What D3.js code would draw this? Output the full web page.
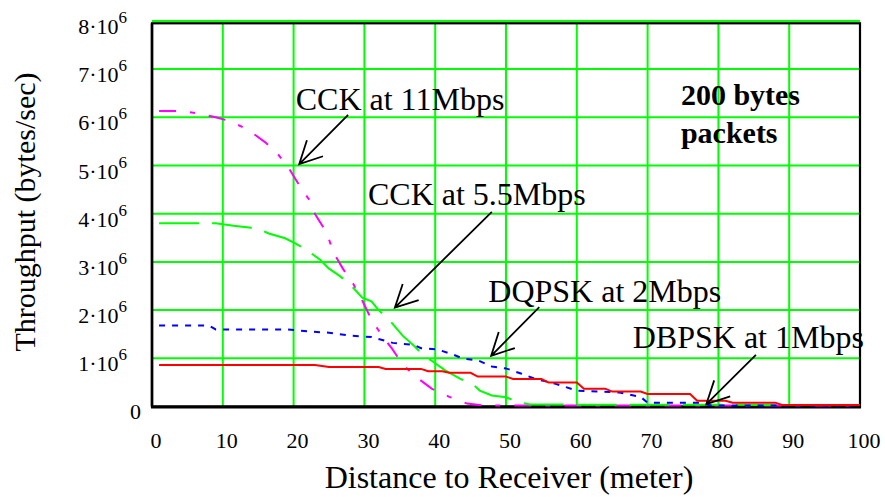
<!DOCTYPE html>
<html>
<head>
<meta charset="utf-8">
<script src="https://cdn.jsdelivr.net/npm/d3@7"></script>
<style>
  html, body { margin: 0; padding: 0; background: #fff; }
  svg { display: block; }
  svg text { font-family: "Liberation Serif", "Times New Roman", Times, "DejaVu Serif", "Noto Serif", serif; }
</style>
</head>
<body>
<svg id="chart" width="885" height="497"></svg>
<script>
// Distance ticks (meter) and throughput ticks (bytes/sec)
const xTicks = [0, 10, 20, 30, 40, 50, 60, 70, 80, 90, 100];
const yTicks = [0, 1e6, 2e6, 3e6, 4e6, 5e6, 6e6, 7e6, 8e6];
const yTickMantissa = ["0", "1", "2", "3", "4", "5", "6", "7", "8"];

// Throughput vs. distance, [distance, bytes/sec]
const cck11 = [
  [1, 6.13e6], [4, 6.13e6], [6.5, 6.08e6], [9, 6.0e6], [11, 5.92e6], [13.5, 5.75e6],
  [16, 5.48e6], [17.7, 5.25e6], [19.3, 4.95e6], [21, 4.54e6], [22.3, 4.27e6], [23, 4.0e6],
  [24.7, 3.6e6], [25.6, 3.2e6], [27, 2.85e6], [28.4, 2.55e6], [29.7, 2.2e6], [31, 1.8e6],
  [32.5, 1.47e6], [33.9, 1.2e6], [35.5, 0.85e6], [37.6, 0.58e6], [39.5, 0.37e6], [42, 0.2e6],
  [44.5, 0.06e6], [47, 0.02e6], [100, 0.02e6]
];
const cck55 = [
  [1, 3.80e6], [9, 3.80e6], [11.5, 3.75e6], [14, 3.71e6], [15, 3.69e6], [16.5, 3.59e6],
  [18.8, 3.49e6], [20.3, 3.38e6], [21.9, 3.24e6], [23.7, 3.05e6], [25, 2.86e6], [26.5, 2.71e6],
  [28, 2.53e6], [29.7, 2.26e6], [31, 2.18e6], [32, 2.0e6], [33.6, 1.78e6], [35.4, 1.47e6],
  [37, 1.26e6], [38.5, 1.04e6], [39.5, 0.95e6], [41.4, 0.75e6], [43.5, 0.58e6], [45.5, 0.44e6],
  [46.3, 0.33e6], [48, 0.23e6], [50, 0.19e6], [52, 0.08e6], [53.4, 0.04e6], [100, 0.03e6]
];
const dqpsk = [
  [1, 1.68e6], [8, 1.68e6], [9, 1.60e6], [19, 1.60e6], [22, 1.56e6], [25, 1.53e6],
  [28, 1.47e6], [31, 1.44e6], [34, 1.32e6], [37, 1.28e6], [38, 1.21e6], [40.4, 1.18e6],
  [42.5, 1.08e6], [44, 0.99e6], [46, 0.96e6], [48, 0.83e6], [50, 0.79e6], [52, 0.69e6],
  [54, 0.58e6], [57, 0.47e6], [60, 0.33e6], [63, 0.31e6], [66, 0.29e6], [69, 0.20e6],
  [70, 0.08e6], [77, 0.08e6], [79, 0.02e6], [100, 0.02e6]
];
const dbpsk = [
  [1, 0.86e6], [23, 0.86e6], [25, 0.82e6], [32, 0.82e6], [33, 0.78e6], [38, 0.78e6],
  [39, 0.73e6], [41, 0.73e6], [42, 0.70e6], [45, 0.70e6], [46, 0.62e6], [50, 0.62e6],
  [51, 0.57e6], [55, 0.57e6], [56, 0.50e6], [60, 0.50e6], [61, 0.37e6], [64, 0.37e6],
  [65, 0.31e6], [69, 0.31e6], [70, 0.26e6], [76, 0.26e6], [77, 0.12e6], [81, 0.12e6],
  [82, 0.08e6], [88, 0.08e6], [89, 0.03e6], [100, 0.03e6]
];

// Callout labels: text, label anchor [distance, throughput], arrow tail and tip
const calloutText = ["CCK at 11Mbps", "CCK at 5.5Mbps", "DQPSK at 2Mbps", "DBPSK at 1Mbps"];
const calloutAt = [[20.3, 6.15e6], [30.5, 4.18e6], [47.5, 2.17e6], [67.9, 1.21e6]];
const arrowTail = [[27.7, 6.05e6], [48.0, 4.04e6], [54.7, 2.06e6], [85.3, 1.07e6]];
const arrowTip = [[20.8, 5.03e6], [34.3, 2.05e6], [47.9, 1.05e6], [78.3, 0.05e6]];

const noteLines = ["200 bytes", "packets"];
const noteAt = [[74.7, 6.26e6], [74.7, 5.47e6]];

const series = [
  { data: cck11, color: "#ff00ff", dash: "17,14,5,14" },
  { data: cck55, color: "#00ff00", dash: "40,13" },
  { data: dqpsk, color: "#0000ff", dash: "6,7" },
  { data: dbpsk, color: "#ff0000", dash: null }
];

const svg = d3.select("#chart");
const plotLeft = 152, plotRight = 860, plotTop = 20.9, plotBottom = 406.5, frameTop = 23.3;

const x = d3.scaleLinear().domain([0, 100]).range([plotLeft, plotRight]);
const y = d3.scaleLinear().domain([0, 8e6]).range([plotBottom, plotTop]);

const grid = "#00ff00";

// Grid
svg.append("g").selectAll("line")
  .data(xTicks.slice(1, -1)).join("line")
  .attr("x1", d => x(d)).attr("x2", d => x(d))
  .attr("y1", frameTop).attr("y2", plotBottom)
  .attr("stroke", grid).attr("stroke-width", 2);

svg.append("g").selectAll("line")
  .data(yTicks.slice(1)).join("line")
  .attr("x1", plotLeft).attr("x2", plotRight)
  .attr("y1", d => y(d)).attr("y2", d => y(d))
  .attr("stroke", grid).attr("stroke-width", 2);

// Frame
svg.append("rect")
  .attr("x", plotLeft).attr("y", frameTop)
  .attr("width", plotRight - plotLeft).attr("height", plotBottom - frameTop)
  .attr("fill", "none").attr("stroke", "#000").attr("stroke-width", 2.2);
svg.append("line")
  .attr("x1", plotLeft - 1).attr("x2", plotRight + 1)
  .attr("y1", plotBottom + 0.5).attr("y2", plotBottom + 0.5)
  .attr("stroke", "#000").attr("stroke-width", 3);
svg.append("line")
  .attr("x1", plotLeft).attr("x2", plotLeft)
  .attr("y1", frameTop).attr("y2", plotBottom)
  .attr("stroke", "#000").attr("stroke-width", 2.6);

// Curves
const line = d3.line().x(d => x(d[0])).y(d => y(d[1]));
svg.append("g").selectAll("path")
  .data(series).join("path")
  .attr("d", s => line(s.data))
  .attr("fill", "none")
  .attr("stroke", s => s.color)
  .attr("stroke-width", 2)
  .attr("stroke-dasharray", s => s.dash);

// Y tick labels: mantissa·10^6
const yl = svg.append("g").attr("font-size", 22).attr("fill", "#000");
yTicks.forEach((v, i) => {
  if (v === 0) {
    yl.append("text").attr("x", plotLeft - 11).attr("y", y(v) + 12)
      .attr("text-anchor", "end").text("0");
    return;
  }
  const t = yl.append("text").attr("x", plotLeft - 25).attr("y", y(v) + 13)
    .attr("text-anchor", "end");
  t.append("tspan").text(yTickMantissa[i] + "\u00b710");
  t.append("tspan").attr("font-size", 17).attr("dy", -11).text("6");
});

// X tick labels
svg.append("g").attr("font-size", 22).attr("text-anchor", "middle")
  .selectAll("text").data(xTicks).join("text")
  .attr("x", d => x(d) + 4).attr("y", 448)
  .text(d => d);

// Axis titles
svg.append("text")
  .attr("x", (plotLeft + plotRight) / 2 + 3).attr("y", 488)
  .attr("text-anchor", "middle").attr("font-size", 32)
  .text("Distance to Receiver (meter)");
svg.append("text")
  .attr("transform", "translate(35,212) rotate(-90)")
  .attr("text-anchor", "middle").attr("font-size", 30)
  .text("Throughput (bytes/sec)");

// Callouts with open arrowheads
const ann = svg.append("g");
calloutText.forEach((txt, i) => {
  ann.append("text")
    .attr("x", x(calloutAt[i][0])).attr("y", y(calloutAt[i][1]))
    .attr("font-size", 32).text(txt);
  const x0 = x(arrowTail[i][0]), y0 = y(arrowTail[i][1]);
  const x1 = x(arrowTip[i][0]), y1 = y(arrowTip[i][1]);
  const ang = Math.atan2(y0 - y1, x0 - x1);
  const L = 25, spread = 27 * Math.PI / 180;
  const h1 = [x1 + L * Math.cos(ang - spread), y1 + L * Math.sin(ang - spread)];
  const h2 = [x1 + L * Math.cos(ang + spread), y1 + L * Math.sin(ang + spread)];
  ann.append("path")
    .attr("d", `M${x0},${y0}L${x1},${y1}M${h1[0]},${h1[1]}L${x1},${y1}L${h2[0]},${h2[1]}`)
    .attr("fill", "none").attr("stroke", "#000").attr("stroke-width", 1.8);
});

// Packet size note
svg.append("g").attr("font-size", 30).attr("font-weight", "bold")
  .selectAll("text").data(noteLines).join("text")
  .attr("x", (d, i) => x(noteAt[i][0])).attr("y", (d, i) => y(noteAt[i][1]))
  .text(d => d);
</script>
</body>
</html>
